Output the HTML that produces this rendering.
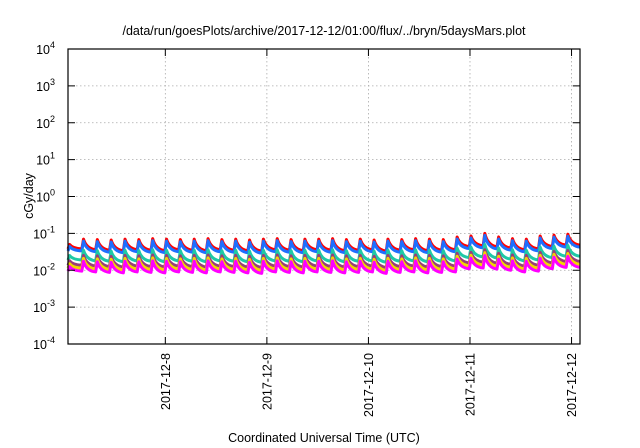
<!DOCTYPE html>
<html><head><meta charset="utf-8"><style>
html,body{margin:0;padding:0;background:#fff;}
svg{display:block;font-family:"Liberation Sans",sans-serif;}
</style></head><body>
<svg id="chart" width="640" height="448" viewBox="0 0 640 448" xmlns="http://www.w3.org/2000/svg">
<text x="324" y="35" font-size="12.5" text-anchor="middle">/data/run/goesPlots/archive/2017-12-12/01:00/flux/../bryn/5daysMars.plot</text>
<text transform="translate(33,196) rotate(-90)" font-size="12.5" text-anchor="middle">cGy/day</text>
<text x="324" y="442" font-size="12.5" text-anchor="middle">Coordinated Universal Time (UTC)</text>
<g id="grid"></g>
<g id="series"></g>
<g id="axes"></g>
</svg>
<script>
const yExponents = [4,3,2,1,0,-1,-2,-3,-4];
const xTickLabels = ["2017-12-8","2017-12-9","2017-12-10","2017-12-11","2017-12-12"];
const xTickHours = [23,47,71,95,119];
const cyclePeaks = [0.05,0.07,0.068,0.066,0.07,0.068,0.072,0.07,0.068,0.07,0.072,0.068,0.07,0.066,0.07,0.072,0.068,0.07,0.07,0.072,0.068,0.07,0.066,0.07,0.068,0.072,0.07,0.068,0.08,0.085,0.1,0.08,0.072,0.07,0.085,0.09,0.095];
const cycleTroughs = [0.038,0.036,0.035,0.034,0.036,0.035,0.034,0.036,0.035,0.034,0.036,0.035,0.034,0.033,0.036,0.035,0.034,0.036,0.035,0.034,0.035,0.036,0.033,0.035,0.036,0.034,0.035,0.036,0.044,0.046,0.043,0.04,0.036,0.038,0.044,0.048,0.048];
const seriesNames = ["red","blue","teal","purple","yellow","magenta"];
const seriesFactors = [1.0,0.88,0.5,0.36,0.3,0.25];
const seriesColors = ["#ff0000","#1e6fff","#1fc9a6","#9a3c7a","#f2d600","#ff00ff"];

const L=68,R=580,T=49,B=344, H0=0,H1=121;
const NS="http://www.w3.org/2000/svg";
const xs=h=>L+(h-H0)/(H1-H0)*(R-L);
const ys=v=>T+(4-Math.log10(v))/8*(B-T);
function mk(tag,attrs,parent){const e=document.createElementNS(NS,tag);for(const k in attrs)e.setAttribute(k,attrs[k]);parent.appendChild(e);return e;}
const grid=document.getElementById('grid'),axes=document.getElementById('axes'),sg=document.getElementById('series');
yExponents.forEach(p=>{
  const y=T+(4-p)/8*(B-T);
  if(p<4&&p>-4){const g=mk('line',{x1:L,x2:R,y1:y,y2:y,stroke:'#aaa','stroke-width':0.8,'stroke-dasharray':'1.5,2.5'},grid);
  }
  const t1=mk('line',{x1:L,x2:L+7,y1:y,y2:y,stroke:'#000'},axes);
  const t2=mk('line',{x1:R-7,x2:R,y1:y,y2:y,stroke:'#000'},axes);
  const tx=mk('text',{x:L-13,y:y+5,'font-size':12.5,'text-anchor':'end'},axes);
  
  tx.textContent='10';const s=mk('tspan',{dy:-6,'font-size':9},tx);s.textContent=String(p);
});
xTickLabels.forEach((lab,i)=>{
  const x=xs(xTickHours[i]);
  const g=mk('line',{x1:x,x2:x,y1:T,y2:B,stroke:'#aaa','stroke-width':0.8,'stroke-dasharray':'1.5,2.5'},grid);
  
  const t1=mk('line',{x1:x,x2:x,y1:B-7,y2:B,stroke:'#000'},axes);
  const t2=mk('line',{x1:x,x2:x,y1:T,y2:T+7,stroke:'#000'},axes);
  const tx=mk('text',{transform:`translate(${x+4.5},353) rotate(-90)`,'font-size':12.5,'text-anchor':'end'},axes);
  tx.textContent=lab;
});
const fr=mk('rect',{x:L,y:T,width:R-L,height:B-T,fill:'none',stroke:'#000','stroke-width':1.2},axes);

const n=cyclePeaks.length, per=(H1-H0)/n;
for(let s=0;s<seriesNames.length;s++){
  const f=seriesFactors[s];let d='';
  for(let c=0;c<n;c++){
    const h0=H0+c*per,h1=h0+per;
    const pk=cyclePeaks[c]*f,tr=cycleTroughs[c]*f;
    const prevTr=(c===0?tr:cycleTroughs[c-1]*f);
    const x0=xs(h0),x1=xs(h1),w=x1-x0,xp=x0+w*0.12;
    const yp=ys(pk),yt=ys(tr),y0=ys(prevTr);
    if(c===0)d+=`M${x0},${y0}`;
    d+=`L${xp},${yp}`;
    d+=`Q${xp+w*0.2},${yt-(yt-yp)*0.1} ${x1},${yt}`;
  }
  const p=mk('path',{d:d,fill:'none',stroke:seriesColors[s],'stroke-width':3,'stroke-linejoin':'round'},sg);
  
  
}
</script>
</body></html>
